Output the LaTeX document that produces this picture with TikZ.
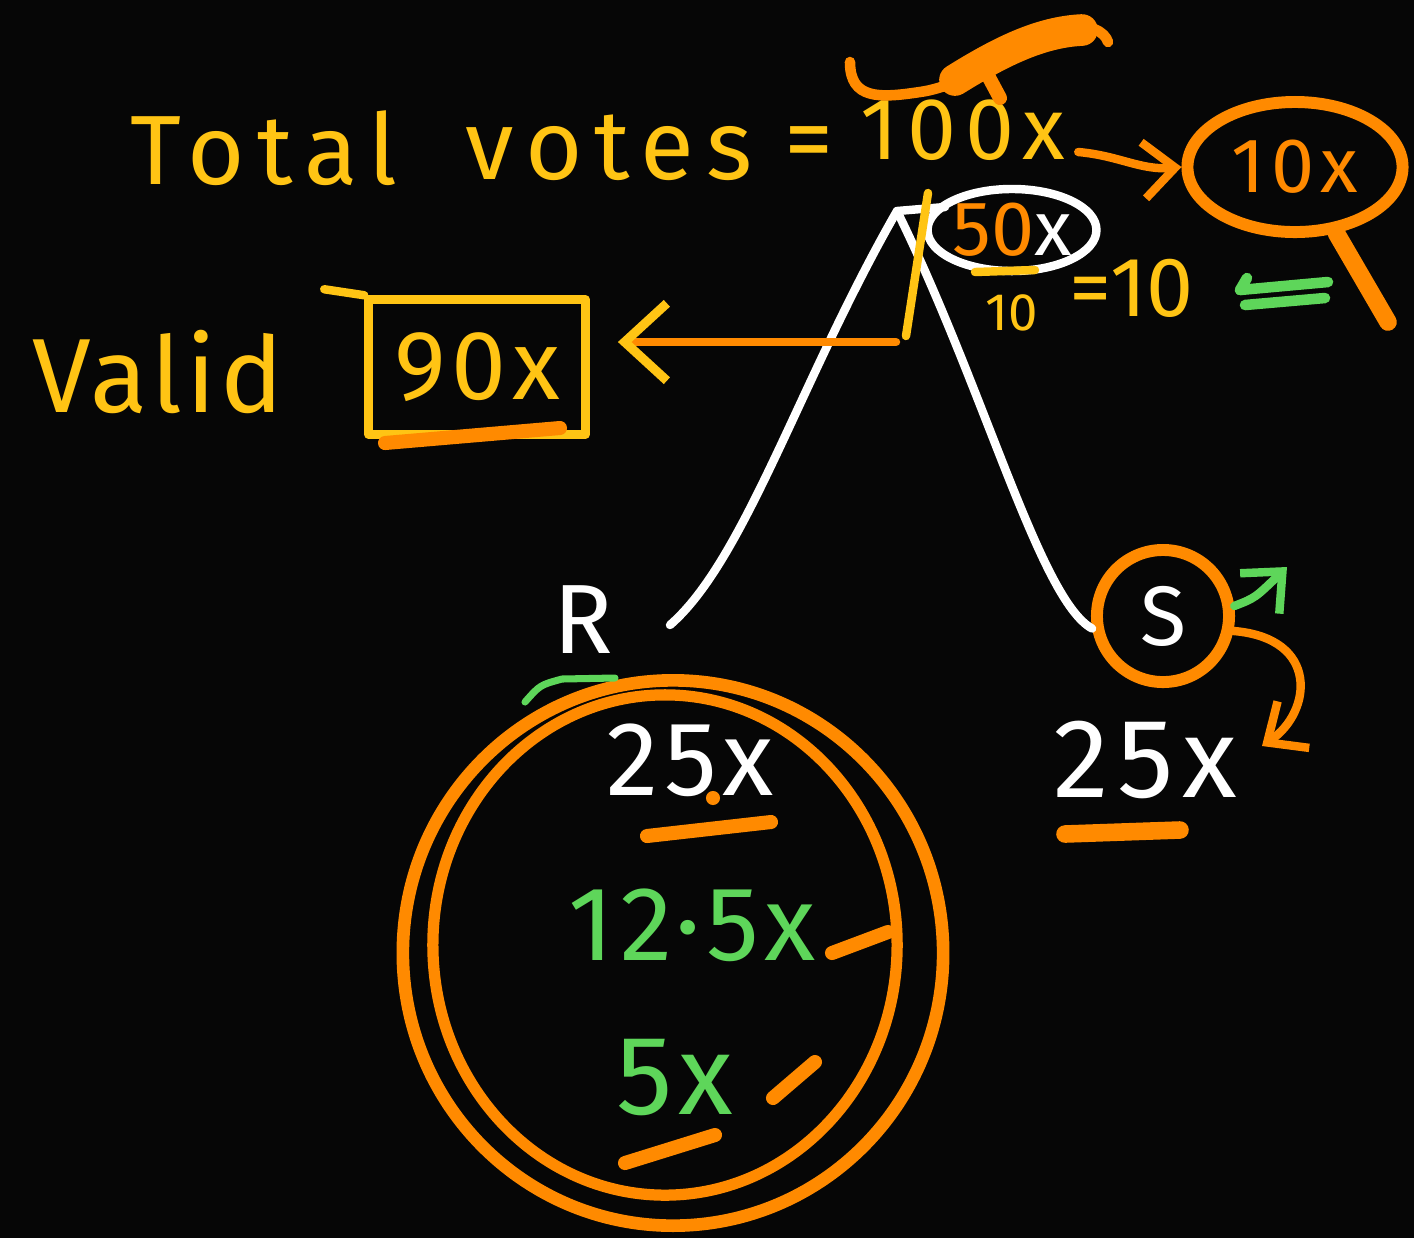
\documentclass[tikz,border=0pt]{standalone}
\usepackage{fontspec}
\setmainfont{Fira Sans}
\usetikzlibrary{arrows.meta,shapes.geometric}
\definecolor{hy}{HTML}{FFC414}
\definecolor{ho}{HTML}{FF8A00}
\definecolor{hg}{HTML}{5ED65A}
\definecolor{bgc}{HTML}{060606}
\newcommand{\hfs}[1]{\fontsize{#1}{#1}\selectfont}
\newcommand{\hsp}[1]{\addfontfeatures{LetterSpace=#1}}
\tikzset{
  ink/.style={line width=2.4pt, line cap=round, line join=round},
  thickink/.style={line width=4pt, line cap=round, line join=round},
  barb/.style={-{Straight Barb[length=9pt,width=16pt,line width=2.4pt]}},
  txt/.style={inner sep=0pt},
}
\begin{document}
\begin{tikzpicture}[x=0.01cm,y=-0.01cm]
\fill[bgc] (0,0) rectangle (1414,1238);
\useasboundingbox (0,0) rectangle (1414,1238);

% header
\node[txt, text=hy, font=\hfs{28}\hsp{12}, anchor=west] (total) at (130,148) {Total};
\node[txt, text=hy, font=\hfs{28}\hsp{12}, anchor=west] (votes) at (465,148) {votes};
\node[txt, text=hy, font=\hfs{28}, anchor=west] (eqa) at (784,150) {=};
\node[txt, text=hy, font=\hfs{25}\hsp{10}, anchor=west] (hund) at (860,130) {100x};

% orange scribble above 100x
\draw[ho, line width=3pt, line cap=round, line join=round]
  (850,62) .. controls (850,100) and (880,98) .. (920,92)
  .. controls (970,85) and (1010,45) .. (1060,28)
  .. controls (1090,22) and (1105,32) .. (1108,42);
\draw[ho, line width=9pt, line cap=round] (955,80) .. controls (1000,52) and (1040,32) .. (1082,30);
\draw[ho, line width=4pt, line cap=round] (985,70) -- (1000,98);

% 10x magnifier
\node[ellipse, draw=ho, line width=3.4pt, minimum width=2.15cm, minimum height=1.3cm,
      text=ho, font=\hfs{22}\hsp{8}] (tenx) at (1295,167) {10x};
\coordinate (hend) at (1388,322);
\draw[ho, line width=5pt, line cap=round] (tenx.-58) -- (hend);
\draw[ho, ink, barb] ([shift={(12,22)}]hund.east) to[out=-5,in=185] (tenx.west);

% 50x circled
\node[ellipse, draw=white, ink, minimum width=1.6cm, minimum height=0.82cm, inner sep=0pt,
      font=\hfs{22}] (fifty) at (1012,230) {\textcolor{ho}{50}\textcolor{white}{x}};
\draw[hy, ink] (975,272) -- (1035,270);
\node[txt, text=hy, font=\hfs{15}] (den) at (1012,313) {10};
\node[txt, text=hy, font=\hfs{24}] (eqten) at (1132,288) {=10};
\draw[hg, line width=3pt, line cap=round] (1240,290) -- (1328,282);
\draw[hg, line width=3pt, line cap=round] (1245,305) -- (1325,298);
\draw[hg, line width=3pt, line cap=round] (1240,290) -- (1247,278);

% peak and branches
\coordinate (peak) at (897,211);
\coordinate (tick) at (945,207);
\draw[white, ink] (tick) -- (peak);
\node[txt, text=white, font=\hfs{28}] (R) at (583,620) {R};
\coordinate (Rend) at (670,625);
\draw[white, ink] (peak) .. controls (800,380) and (745,560) .. (Rend);
\node[circle, draw=ho, line width=3.4pt, minimum size=1.32cm, text=white, font=\hfs{24}] (S) at (1163,616) {S};
\draw[white, ink] (peak) .. controls (985,390) and (1040,600) .. (S.190);

% arrows around S
\coordinate (gtip) at (1287,567);
\draw[hg, ink, barb] (S.8) .. controls (1255,598) .. (gtip);
\coordinate (stip) at (1262,746);
\draw[ho, ink, barb] (S.-12) .. controls (1320,638) and (1312,712) .. (stip);
\node[txt, text=white, font=\hfs{32}\hsp{8}] (s25) at (1145,760) {25x};
\draw[ho, line width=5pt, line cap=round] (1065,834) -- (1180,830);

% valid box
\node[txt, text=hy, font=\hfs{30}\hsp{4}] (valid) at (158,372) {Valid};
\node[draw=hy, ink, minimum width=2.17cm, minimum height=1.35cm, text=hy, font=\hfs{28}\hsp{6}] (box) at (477,367) {90x};
\draw[hy, ink] ([shift={(-40,-6)}]box.north west) -- (box.north west);
\draw[ho, thickink] (385,443) -- (560,428);
\coordinate (vt) at (928,193);
\coordinate (vb) at (906,336);
\draw[hy, ink] (vt) -- (vb);
\coordinate (ast) at (896,342);
\draw[ho, ink, -{Straight Barb[length=12pt,width=22pt,line width=2.6pt,color=hy]}, shorten >=8pt] (ast) -- (box.east |- ast);

% big ring
\node[ellipse, draw=ho, line width=3.6pt, minimum width=5.4cm, minimum height=5.45cm] (ring) at (673,953) {};
\draw[ho, line width=3.2pt] ([shift={(-8,-8)}]ring.center) ellipse [x radius=2.32cm, y radius=2.5cm];
\draw[hg, line width=2pt, line cap=round] (525,702) .. controls (540,685) .. (562,679) -- (615,678);

\node[txt, text=white, font=\hfs{30}\hsp{6}] (r25) at (690,760) {25x};
\fill[ho] (713,798) circle [radius=2pt];
\draw[ho, thickink] (647,836) -- (771,822);
\node[txt, text=hg, font=\hfs{30}\hsp{6}] (r125) at (692,925) {12·5x};
\draw[ho, thickink] (832,953) -- (888,932);
\node[txt, text=hg, font=\hfs{32}\hsp{6}] (r5) at (675,1078) {5x};
\draw[ho, thickink] (773,1098) -- (815,1062);
\draw[ho, thickink] (625,1163) -- (715,1135);
\end{tikzpicture}
\end{document}
